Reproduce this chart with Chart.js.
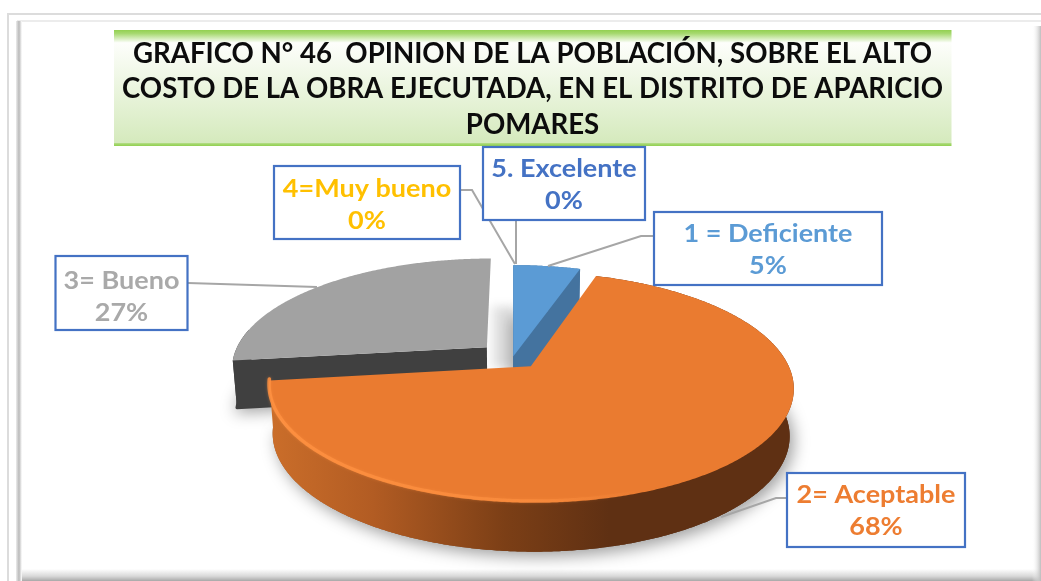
<!DOCTYPE html>
<html lang="es">
<head>
<meta charset="utf-8">
<title>Grafico 46</title>
<style>
html,body{margin:0;padding:0;background:#fff;overflow:hidden}
canvas{display:block;filter:blur(0.45px)}
</style>
<script src="https://cdn.jsdelivr.net/npm/chart.js@4/dist/chart.umd.min.js"></script>
</head>
<body>
<canvas id="c" width="1041" height="581"></canvas>
<script>
const categories = ['1 = Deficiente', '2= Aceptable', '3= Bueno', '4=Muy bueno', '5. Excelente'];
const values = [5, 68, 27, 0, 0];
const sliceColors = ['#5b9bd5', '#ea7b30', '#a2a2a2', '#ffc000', '#4472c4'];
const labelColors = ['#5b9bd5', '#ed7d31', '#a9a9a9', '#ffc000', '#4472c4'];
const titleLines = [
  'GRAFICO N° 46  OPINION DE LA POBLACIÓN, SOBRE EL ALTO',
  'COSTO DE LA OBRA EJECUTADA, EN EL DISTRITO DE APARICIO',
  'POMARES'
];
const explode = [1, 21, 27, 0, 0];

/* layout of the label boxes and leader lines, by category index */
const labelBoxes = [
  {x: 654, y: 212, w: 228, h: 73, ty: 30, lead: [[654,236],[641,236],[548,266]]},
  {x: 787, y: 473, w: 178, h: 74, ty: 30, lead: [[787,498],[776,498],[721,517]]},
  {x: 55.5, y: 256, w: 132, h: 74, ty: 33, lead: [[188,283],[317,287]]},
  {x: 274, y: 166, w: 186, h: 73, ty: 30.5, lead: [[460,190],[472,190],[515,264]]},
  {x: 483, y: 147, w: 162, h: 73, ty: 30, lead: [[516,220],[516,264]]}
];
const view = {cx: 513, cy: 357, rx: 254, ry: 108, p: 0.181, depth: 47, shrink: 0.985};

function project(el, angle, radial, lowered) {
  const mid = (el.startAngle + el.endAngle) / 2;
  const off = (el.options.offset || 0) / el.outerRadius;
  const U = off * Math.cos(mid) + radial * Math.cos(angle);
  const V = off * Math.sin(mid) + radial * Math.sin(angle);
  const w = 1 / (1 - view.p * V);
  let x = view.cx + view.rx * U * w;
  let y = view.cy + view.ry * V * w;
  if (lowered) {
    x = view.cx + (x - view.cx) * view.shrink;
    y += view.depth * Math.pow(w, 0.2);
  }
  return [x, y];
}
function rim(el, lowered) {
  const pts = [], n = Math.max(2, Math.ceil((el.endAngle - el.startAngle) * 120));
  for (let i = 0; i <= n; i++) {
    pts.push(project(el, el.startAngle + (el.endAngle - el.startAngle) * i / n, 1, lowered));
  }
  return pts;
}
function poly(ctx, pts) {
  ctx.beginPath();
  pts.forEach((p, i) => i ? ctx.lineTo(p[0], p[1]) : ctx.moveTo(p[0], p[1]));
  ctx.closePath();
}
function paintSlice(ctx, el, index) {
  const top = rim(el, false), low = rim(el, true);
  const apex = project(el, el.startAngle, 0, false), apexLow = project(el, el.startAngle, 0, true);
  const color = el.options.backgroundColor;

  // the grey slice only shows its near part below the top face
  const keep = index === 2 ? Math.ceil(top.length * 0.18) : top.length;
  const topPart = top.slice(0, keep), lowPart = low.slice(0, keep);

  let wall = '#404040';
  if (index === 0) { wall = '#44739f'; }
  if (index === 1) {
    wall = ctx.createLinearGradient(268, 0, 793, 0);
    wall.addColorStop(0, '#cb6e2a');
    wall.addColorStop(0.2, '#b25c23');
    wall.addColorStop(0.45, '#7c3f16');
    wall.addColorStop(0.65, '#5f3013');
    wall.addColorStop(1, '#5f3013');
  }

  // cast shadow under the slab
  ctx.save();
  ctx.shadowColor = 'rgba(0,0,0,0.38)';
  ctx.shadowBlur = 16;
  ctx.shadowOffsetX = index === 1 ? 4 : -2;
  ctx.shadowOffsetY = 5;
  poly(ctx, [apexLow].concat(lowPart));
  ctx.fillStyle = '#888';
  ctx.fill();
  ctx.restore();

  // base, outer wall, cut faces
  ctx.lineJoin = 'round';
  ctx.fillStyle = wall;
  poly(ctx, [apexLow].concat(lowPart));
  ctx.fill();
  if (index === 2) {
    ctx.strokeStyle = wall;
    ctx.lineWidth = 3;
    ctx.stroke();
  }
  poly(ctx, topPart.concat(lowPart.slice().reverse()));
  ctx.fill();
  if (index !== 1) {
    poly(ctx, [apex, top[0], low[0], apexLow]);
    ctx.fill();
  }
  if (index === 0) {
    poly(ctx, [apex, top[top.length - 1], low[low.length - 1], apexLow]);
    ctx.fill();
  }

  // top face
  ctx.fillStyle = color;
  poly(ctx, [apex].concat(top));
  ctx.fill();

  if (index === 1) {
    // bevel highlight along the near rim
    const g = ctx.createLinearGradient(268, 0, 640, 0);
    g.addColorStop(0, 'rgba(255,145,65,0.85)');
    g.addColorStop(0.7, 'rgba(255,145,65,0.6)');
    g.addColorStop(1, 'rgba(255,145,65,0)');
    ctx.save();
    ctx.strokeStyle = g;
    ctx.lineWidth = 3.5;
    ctx.lineCap = 'round';
    ctx.shadowColor = 'rgba(255,145,65,0.5)';
    ctx.shadowBlur = 3;
    ctx.beginPath();
    let started = false;
    top.forEach(p => {
      if (p[0] < 640 && p[1] > 378) {
        if (started) ctx.lineTo(p[0], p[1] - 1.5);
        else { ctx.moveTo(p[0], p[1] - 1.5); started = true; }
      }
    });
    ctx.stroke();
    ctx.restore();
  }
}

const framePlugin = {
  id: 'frame',
  beforeDraw(chart) {
    const ctx = chart.ctx, W = chart.width, H = chart.height;
    ctx.save();
    ctx.fillStyle = '#fff';
    ctx.fillRect(0, 0, W, H);
    // outer thin frame
    ctx.fillStyle = '#dcdcdc';
    ctx.fillRect(7, 13, W - 7, 2);
    ctx.fillRect(7, 13, 2, H - 13);
    // inner frame
    ctx.fillStyle = '#ececec';
    ctx.fillRect(17, 20, W - 17, 2);
    let g = ctx.createLinearGradient(16, 0, 22, 0);
    g.addColorStop(0, '#ececec'); g.addColorStop(0.5, '#b9b9b9'); g.addColorStop(1, '#fff');
    ctx.fillStyle = g; ctx.fillRect(16, 21, 6, H - 21);
    g = ctx.createLinearGradient(0, 569, 0, 581);
    g.addColorStop(0, '#fff'); g.addColorStop(0.6, '#d8d8d8'); g.addColorStop(1, '#a8a8a8');
    ctx.fillStyle = g; ctx.fillRect(22, 569, W - 22, 12);
    g = ctx.createLinearGradient(1032, 0, 1041, 0);
    g.addColorStop(0, 'rgba(255,255,255,0)'); g.addColorStop(1, '#bdbdbd');
    ctx.fillStyle = g; ctx.fillRect(1032, 26, 9, H - 26);
    // title band
    g = ctx.createLinearGradient(0, 30, 0, 146);
    g.addColorStop(0, '#92d050');
    g.addColorStop(0.03, '#a6d96f');
    g.addColorStop(0.11, '#fdfefb');
    g.addColorStop(0.97, '#d5eabd');
    g.addColorStop(0.98, '#a7d873');
    g.addColorStop(1, '#92d050');
    ctx.fillStyle = g;
    ctx.fillRect(114, 30, 837.5, 116);
    ctx.restore();
  }
};

const slab3dPlugin = {
  id: 'slab3d',
  beforeDatasetsDraw(chart) {
    const ctx = chart.ctx, arcs = chart.getDatasetMeta(0).data;
    ctx.save();
    // soft shadow in the gap behind the grey and blue slices
    ctx.save();
    ctx.filter = 'blur(5px)';
    ctx.fillStyle = 'rgba(0,0,0,0.11)';
    ctx.fillRect(492, 306, 22, 62);
    ctx.restore();
    [2, 0, 1].forEach(i => paintSlice(ctx, arcs[i], i));
    ctx.restore();
    return false;
  }
};

const calloutPlugin = {
  id: 'callouts',
  afterDraw(chart) {
    const ctx = chart.ctx;
    ctx.save();
    labelBoxes.forEach(b => {
      ctx.strokeStyle = '#a6a6a6';
      ctx.lineWidth = 2;
      ctx.lineJoin = 'miter';
      ctx.beginPath();
      b.lead.forEach((p, k) => k ? ctx.lineTo(p[0], p[1]) : ctx.moveTo(p[0], p[1]));
      ctx.stroke();
    });
    labelBoxes.forEach((b, i) => {
      ctx.fillStyle = '#fff';
      ctx.fillRect(b.x, b.y, b.w, b.h);
      ctx.strokeStyle = '#4472c4';
      ctx.lineWidth = 2.2;
      ctx.strokeRect(b.x, b.y, b.w, b.h);
      ctx.fillStyle = labelColors[i];
      ctx.font = 'bold 25px Lato, sans-serif';
      ctx.textAlign = 'center';
      ctx.textBaseline = 'alphabetic';
      const cx = b.x + b.w / 2;
      [categories[i], values[i] + '%'].forEach((t, k) => {
        ctx.save();
        ctx.translate(cx, b.y + b.ty + k * 32);
        ctx.scale(1.08, 1);
        ctx.fillText(t, 0, 0);
        ctx.restore();
      });
    });
    ctx.restore();
  }
};

new Chart(document.getElementById('c'), {
  type: 'pie',
  data: {
    labels: categories,
    datasets: [{
      data: values,
      backgroundColor: sliceColors,
      offset: explode,
      borderWidth: 0
    }]
  },
  options: {
    responsive: false,
    animation: false,
    rotation: 0,
    layout: {padding: {left: 24, right: 0, top: 36, bottom: 20}},
    plugins: {
      legend: {display: false},
      tooltip: {enabled: false},
      title: {
        display: true,
        text: titleLines,
        color: '#0c0c0c',
        font: {family: 'Lato, sans-serif', size: 27.6, weight: 'bold', lineHeight: 1.286},
        padding: {top: 0, bottom: 4}
      }
    }
  },
  plugins: [framePlugin, slab3dPlugin, calloutPlugin]
});
</script>
</body>
</html>
